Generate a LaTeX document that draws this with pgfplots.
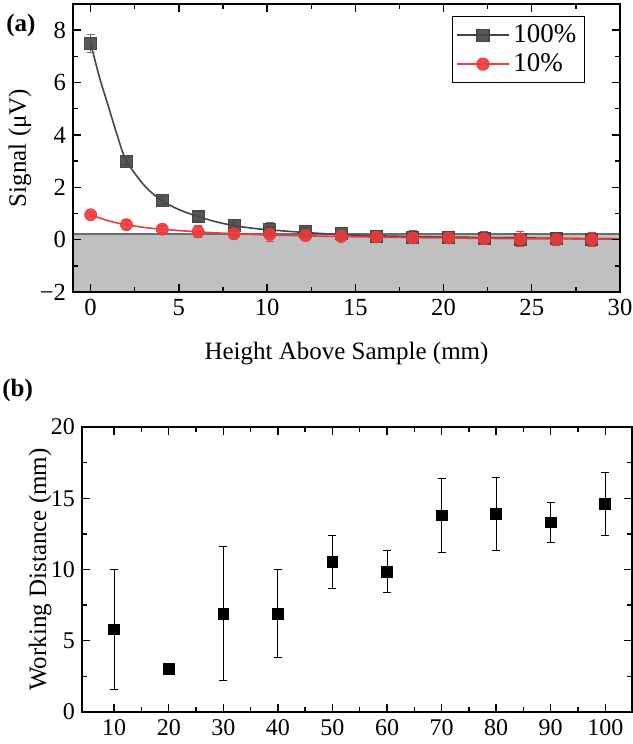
\documentclass[border=0pt]{standalone}
\usepackage{fontspec}
\setmainfont{Liberation Serif}
\usepackage{pgfplots}
\pgfplotsset{compat=1.18}
\definecolor{gr100}{HTML}{464646}
\definecolor{red10}{HTML}{EE3A3A}
\definecolor{shade}{HTML}{C0C0C0}

\begin{document}
\begin{tikzpicture}
\useasboundingbox (0,0) rectangle (316pt,-372pt);
\pgfplotsset{
  every axis/.append style={
    scale only axis,
    axis on top,
    axis line style={line width=0.9pt},
    tick style={line width=0.7pt, black},
    major tick length=4pt, minor tick length=2.5pt,
    /pgf/number format/assume math mode=true,
    label style={font=\fontsize{12.5}{15}\selectfont},
  },
}
% (a) signal vs height
\begin{axis}[
    at={(36.5pt,-2pt)}, anchor=north west,
    width=273.5pt, height=144pt,
    xmin=-1, xmax=30, ymin=-2, ymax=9,
    xtick={0,5,...,30}, ytick={-2,0,2,4,6,8},
    yticklabels={−2,0,2,4,6,8},
    minor x tick num=1, minor y tick num=1,
    tick label style={font=\fontsize{12.3}{14}\selectfont},
    xlabel={Height Above Sample (mm)}, ylabel={Signal (μV)},
    xlabel style={at={(axis description cs:0.5,-0.212)}, anchor=center},
    ylabel style={at={(axis description cs:-0.097,0.5)}, anchor=center},
    legend style={at={(0.936,0.958)}, anchor=north east, draw=black,
      line width=0.6pt, font=\fontsize{13.5}{16}\selectfont,
      row sep=0pt, inner sep=2pt},
    legend cell align=left,
]
% noise floor band
\addplot[fill=shade, draw=none, forget plot] coordinates {(-1,-2) (-1,0.22) (30,0.22) (30,-2)};
\addplot[color=gray!85!black, line width=0.8pt, forget plot] coordinates {(-1,0.22) (30,0.22)};

% fitted curves
\addplot[gr100, line width=0.8pt, smooth, forget plot] coordinates {
  (0,7.5) (0.5,6.2) (1,5.1) (1.5,4.0) (2,3.05) (3,2.1) (4,1.5) (5,1.15)
  (6,0.9) (7,0.7) (8,0.55) (9,0.45) (10,0.38) (12,0.28) (14,0.2) (16,0.15)
  (18,0.12) (20,0.1) (24,0.07) (28,0.04) (30,0.03)
};
\addplot[red10, line width=0.8pt, smooth, forget plot] coordinates {
  (0,0.95) (1,0.72) (2,0.57) (3,0.47) (4,0.4) (6,0.3) (8,0.23) (10,0.18)
  (12,0.15) (14,0.12) (18,0.08) (22,0.05) (26,0.03) (30,0.02)
};

% measured data
\addplot[gr100, only marks, mark=square*, mark size=3pt,
  mark options={fill=gr100, draw=gr100, fill opacity=0.9},
  legend image code/.code={
    \draw[gr100, line width=0.8pt, mark=none] (0cm,0cm) -- (0.9cm,0cm);
    \draw plot coordinates {(0.45cm,0cm)};},
  error bars/.cd, y dir=both, y explicit,
  error bar style={gr100!80, line width=0.6pt},
  error mark options={rotate=90, mark size=2pt, line width=0.6pt, gr100!80},
] coordinates {
  (0,7.5) +- (0,0.35)
  (2.03,3.0) +- (0,0.15)
  (4.06,1.5) +- (0,0.15)
  (6.09,0.88) +- (0,0.2)
  (8.12,0.55) +- (0,0.1)
  (10.15,0.38) +- (0,0.28)
  (12.18,0.3) +- (0,0.15)
  (14.2,0.22) +- (0,0.25)
  (16.2,0.12) +- (0,0.1)
  (18.25,0.1) +- (0,0.25)
  (20.3,0.08) +- (0,0.1)
  (22.3,0.05) +- (0,0.25)
  (24.35,0.02) +- (0,0.2)
  (26.4,0.03) +- (0,0.25)
  (28.4,0.02) +- (0,0.15)
};
\addlegendentry{100\%}
\addplot[red10, only marks, mark=*, mark size=3pt,
  mark options={fill=red10, draw=red10, fill opacity=0.9},
  legend image code/.code={
    \draw[red10, line width=0.8pt, mark=none] (0cm,0cm) -- (0.9cm,0cm);
    \draw plot coordinates {(0.45cm,0cm)};},
  error bars/.cd, y dir=both, y explicit,
  error bar style={red10, line width=0.6pt},
  error mark options={rotate=90, mark size=2pt, line width=0.6pt, red10},
] coordinates {
  (0,0.95) +- (0,0.08)
  (2.03,0.57) +- (0,0.18)
  (4.06,0.4) +- (0,0.12)
  (6.09,0.3) +- (0,0.22)
  (8.12,0.22) +- (0,0.08)
  (10.15,0.2) +- (0,0.28)
  (12.18,0.15) +- (0,0.12)
  (14.2,0.12) +- (0,0.12)
  (16.2,0.1) +- (0,0.1)
  (18.25,0.06) +- (0,0.2)
  (20.3,0.06) +- (0,0.08)
  (22.3,0.03) +- (0,0.15)
  (24.35,0.02) +- (0,0.28)
  (26.4,0.0) +- (0,0.15)
  (28.4,0.0) +- (0,0.25)
};
\addlegendentry{10\%}
\end{axis}

% (b) working distance
\begin{axis}[
    at={(41pt,-213.5pt)}, anchor=north west,
    width=275pt, height=142.5pt,
    xmin=4.1, xmax=104.9, ymin=0, ymax=20,
    xtick={10,20,...,100}, ytick={0,5,...,20},
    minor x tick num=1, minor y tick num=1,
    tick label style={font=\fontsize{12}{14}\selectfont},
    ylabel={Working Distance (mm)},
    ylabel style={at={(axis description cs:-0.076,0.5)}, anchor=center},
]
\addplot[black, only marks, mark=square*, mark size=2.7pt,
  error bars/.cd, y dir=both, y explicit,
  error bar style={line width=0.5pt},
  error mark options={rotate=90, mark size=2pt, line width=0.5pt},
] coordinates {
  (10,5.8) +- (0,4.22)
  (20,3.05) +- (0,0.1)
  (30,6.9) +- (0,4.72)
  (40,6.9) +- (0,3.1)
  (50,10.55) +- (0,1.85)
  (60,9.85) +- (0,1.45)
  (70,13.8) +- (0,2.6)
  (80,13.9) +- (0,2.55)
  (90,13.3) +- (0,1.4)
  (100,14.6) +- (0,2.2)
};
\end{axis}

\node[anchor=west, inner sep=0pt, font=\bfseries\fontsize{12.5}{15}\selectfont] at (3pt,-12.5pt) {(a)};
\node[anchor=west, inner sep=0pt, font=\bfseries\fontsize{12.5}{15}\selectfont] at (1pt,-195pt) {(b)};
\end{tikzpicture}
\end{document}
